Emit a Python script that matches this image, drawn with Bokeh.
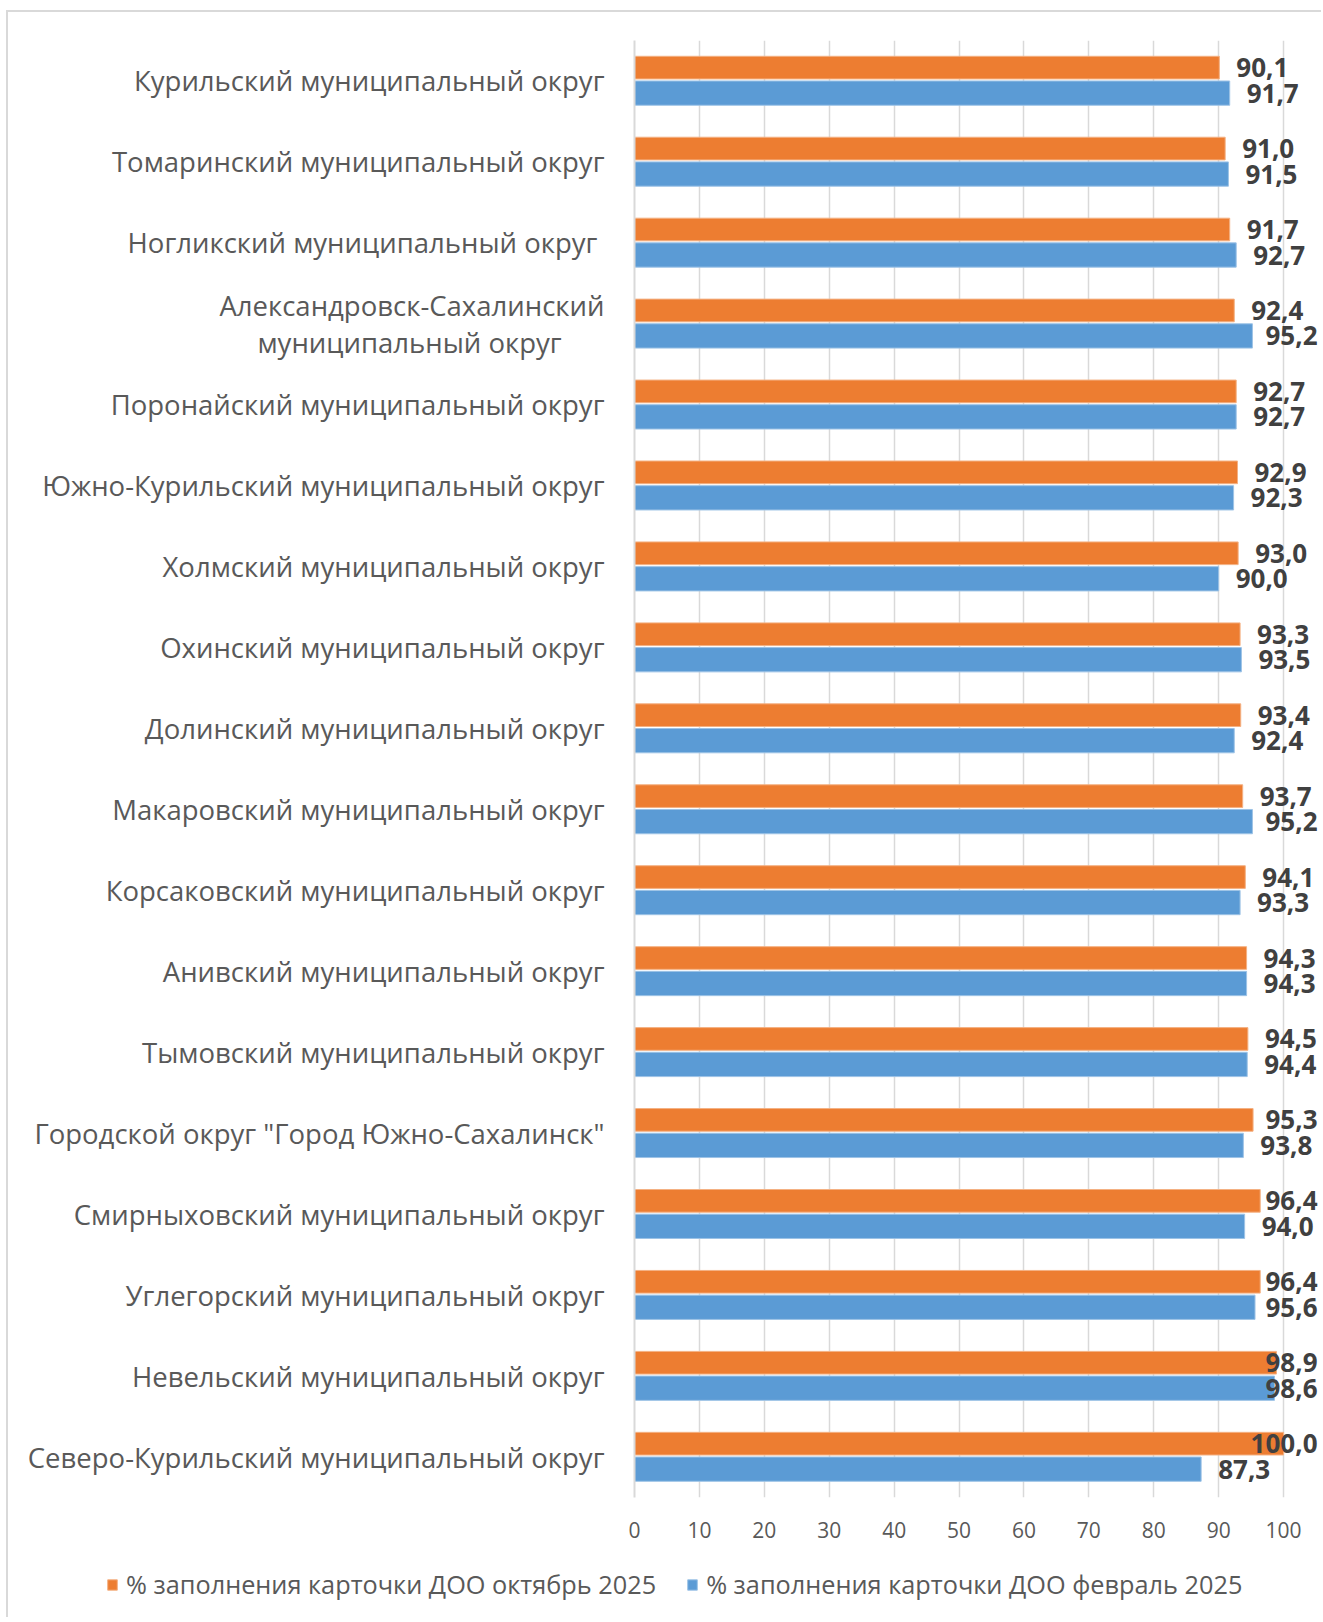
from bokeh.plotting import figure
from bokeh.models import (ColumnDataSource, Range1d, FactorRange, FixedTicker,
                          Legend, LegendItem)
from bokeh.transform import dodge
from bokeh.core.properties import value
from bokeh.embed import file_html
from bokeh.resources import INLINE

NB = "\u00a0"

# ---------------- data (top to bottom as in the reference) ----------------
districts = [
    "Курильский муниципальный округ",
    "Томаринский муниципальный округ",
    "Ногликский муниципальный округ" + NB,
    "Александровск-Сахалинский\nмуниципальный округ" + NB * 6,
    "Поронайский муниципальный округ",
    "Южно-Курильский муниципальный округ",
    "Холмский муниципальный округ",
    "Охинский муниципальный округ",
    "Долинский муниципальный округ",
    "Макаровский муниципальный округ",
    "Корсаковский муниципальный округ",
    "Анивский муниципальный округ",
    "Тымовский муниципальный округ",
    "Городской округ \"Город Южно-Сахалинск\"",
    "Смирныховский муниципальный округ",
    "Углегорский муниципальный округ",
    "Невельский муниципальный округ",
    "Северо-Курильский муниципальный округ",
]
oct_2025 = [90.1, 91.0, 91.7, 92.4, 92.7, 92.9, 93.0, 93.3, 93.4, 93.7,
            94.1, 94.3, 94.5, 95.3, 96.4, 96.4, 98.9, 100.0]
feb_2025 = [91.7, 91.5, 92.7, 95.2, 92.7, 92.3, 90.0, 93.5, 92.4, 95.2,
            93.3, 94.3, 94.4, 93.8, 94.0, 95.6, 98.6, 87.3]
x_ticks = [0, 10, 20, 30, 40, 50, 60, 70, 80, 90, 100]
series_names = ["% заполнения карточки ДОО октябрь 2025",
                "% заполнения карточки ДОО февраль 2025"]

ORANGE = "#ED7D31"
BLUE = "#5B9BD5"
FONT = "Open Sans"
X_END = 106.15
PX_PER_UNIT = 6.49
LABEL_LIMIT = X_END - 6 / PX_PER_UNIT   # keep labels a few px inside the edge


def fmt(v):
    return f"{v:.1f}".replace(".", ",")


def split_labels(vals):
    normal = dict(cat=[], x=[], text=[])
    capped = dict(cat=[], x=[], text=[])
    for c, v in zip(districts, vals):
        t = fmt(v)
        right_edge = v + (17 + 12.5 * len(t)) / PX_PER_UNIT
        if right_edge > LABEL_LIMIT:
            capped["cat"].append(c); capped["x"].append(LABEL_LIMIT); capped["text"].append(t)
        else:
            normal["cat"].append(c); normal["x"].append(v); normal["text"].append(t)
    return normal, capped


src = ColumnDataSource(dict(cat=districts, oct=oct_2025, feb=feb_2025))

p = figure(
    width=1315, height=1545,
    y_range=FactorRange(factors=list(reversed(districts)), range_padding=0),
    x_range=Range1d(0, X_END),
    output_backend="svg", toolbar_location=None,
    min_border_left=626, min_border_top=28, min_border_right=0, min_border_bottom=60,
)
p.styles = {"margin-left": "6px", "margin-top": "10px",
            "border-left": "2px solid #d9d9d9", "border-top": "2px solid #d9d9d9"}
p.outline_line_color = None
p.background_fill_color = "white"
p.border_fill_color = "white"

r_oct = p.hbar(y=dodge("cat", 0.165, range=p.y_range), right="oct", left=0, height=0.28,
               source=src, fill_color=ORANGE, line_color="#F4B183", line_width=1)
r_feb = p.hbar(y=dodge("cat", -0.15, range=p.y_range), right="feb", left=0, height=0.30,
               source=src, fill_color=BLUE, line_color="#9DC3E6", line_width=1)

for vals, off in ((oct_2025, 0.165), (feb_2025, -0.15)):
    normal, capped = split_labels(vals)
    p.text(x="x", y=dodge("cat", off, range=p.y_range), text="text",
           source=ColumnDataSource(normal), x_offset=17,
           text_align="left", text_baseline="middle",
           text_font=value(FONT), text_font_size=value("26px"),
           text_font_style="bold", text_color="#404040")
    p.text(x="x", y=dodge("cat", off, range=p.y_range), text="text",
           source=ColumnDataSource(capped), x_offset=0,
           text_align="right", text_baseline="middle",
           text_font=value(FONT), text_font_size=value("26px"),
           text_font_style="bold", text_color="#404040")

# x axis
p.xaxis.ticker = FixedTicker(ticks=x_ticks)
p.xaxis.axis_line_color = None
p.xaxis.major_tick_line_color = None
p.xaxis.minor_tick_line_color = None
p.xaxis.major_label_text_font = FONT
p.xaxis.major_label_text_font_size = "21px"
p.xaxis.major_label_text_color = "#595959"
p.xaxis.major_label_standoff = 18

# y axis
p.yaxis.axis_line_color = "#d9d9d9"
p.yaxis.axis_line_width = 2
p.yaxis.major_tick_line_color = None
p.yaxis.minor_tick_line_color = None
p.yaxis.major_label_text_font = FONT
p.yaxis.major_label_text_font_size = "27.5px"
p.yaxis.major_label_text_color = "#595959"
p.yaxis.major_label_text_line_height = 1.0
p.yaxis.major_label_standoff = 24

# grid
p.ygrid.grid_line_color = None
p.xgrid.grid_line_color = "#d9d9d9"
p.xgrid.grid_line_width = 1.5

# ---------------- legend strip (separate root, so its frame spans the full width) ----------------
lg = figure(
    width=1315, height=62, x_range=Range1d(0, 1), y_range=Range1d(0, 1),
    output_backend="svg", toolbar_location=None,
    min_border=0, min_border_left=0, min_border_right=0,
    min_border_top=0, min_border_bottom=0,
)
lg.styles = {"margin-left": "6px", "border-left": "2px solid #d9d9d9"}
lg.axis.visible = False
lg.grid.visible = False
lg.outline_line_color = None
lg.background_fill_color = "white"
lg.border_fill_color = "white"
k_oct = lg.hbar(y=0.5, right="oct", left=0, height=0.5, source=src,
                fill_color=ORANGE, line_color="#F4B183", visible=False)
k_feb = lg.hbar(y=0.5, right="feb", left=0, height=0.5, source=src,
                fill_color=BLUE, line_color="#9DC3E6", visible=False)

legend = Legend(
    items=[LegendItem(label=series_names[0], renderers=[k_oct]),
           LegendItem(label=series_names[1], renderers=[k_feb])],
    orientation="horizontal",
    location=(98, 16),
    glyph_width=12, glyph_height=13,
    label_text_font=FONT, label_text_font_size="25.3px", label_text_color="#595959",
    label_standoff=8, spacing=30, padding=0, margin=0,
    border_line_color=None, background_fill_alpha=0,
    inactive_fill_alpha=0,
)
lg.add_layout(legend, "center")

open("out.html", "w").write(file_html((p, lg), INLINE))
